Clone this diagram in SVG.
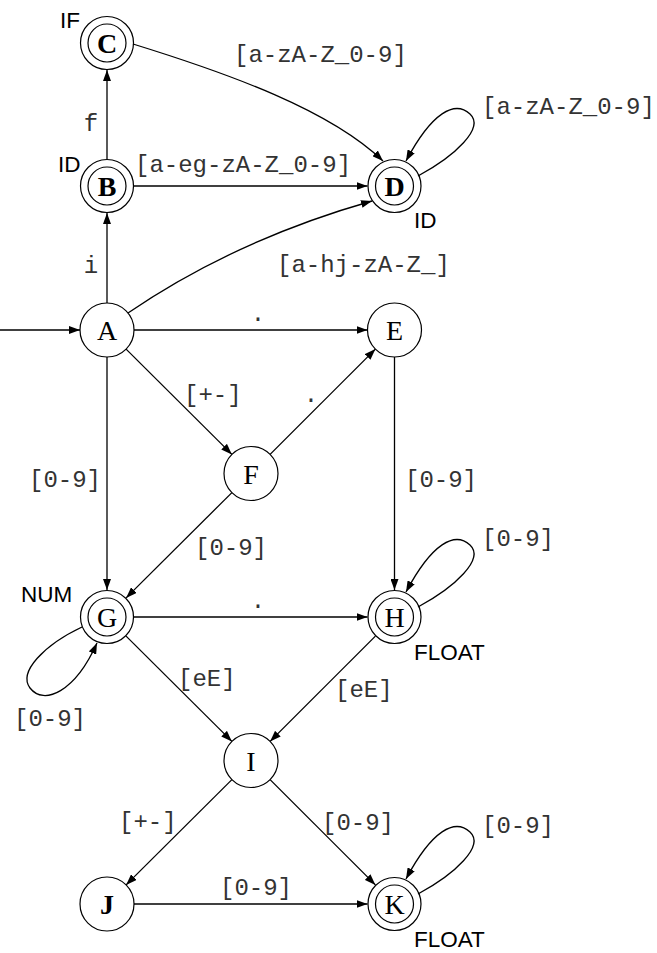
<svg xmlns="http://www.w3.org/2000/svg" width="657" height="953" viewBox="0 0 657 953">
<style>
.bg{fill:#fff}
.n circle{fill:none;stroke:#000;stroke-width:1.2}
.n .nl{font-family:"Liberation Serif",serif;font-size:28px;text-anchor:middle;fill:#000}
.n .b{font-weight:bold}
.n .tag{font-family:"Liberation Sans",Arial,sans-serif;font-size:22.5px;fill:#000;text-anchor:start}
.e path{fill:none;stroke:#000;stroke-width:1.3;marker-end:url(#ah)}
.l{font-family:"Liberation Mono","Courier New",monospace;font-size:24px;fill:#333}
</style>
<defs>
<marker id="ah" markerUnits="userSpaceOnUse" markerWidth="11" markerHeight="8" refX="11" refY="4" orient="auto">
<path d="M0,0 L11,4 L0,8 z" fill="#000"/>
</marker>
</defs>
<rect class="bg" width="657" height="953"/>
<g id="connectors" class="e">
<path d="M0,330 L80,330"/>
<path d="M107,303 L107,213"/>
<path d="M107,159 L107,70"/>
<path d="M134,186 L367.5,186"/>
<path d="M133,44 C230,74 330,110 383,161"/>
<path d="M418,176 C455,156 485,128 470,114 C455,100 432,112 406,161"/>
<path d="M128,313 Q235,240 372,201"/>
<path d="M134,330 L367.5,330"/>
<path d="M126.1,349.1 L231.9,454.4"/>
<path d="M270.1,454.4 L375.4,349.1"/>
<path d="M107,357 L107,590"/>
<path d="M394.5,357 L394.5,590"/>
<path d="M231.9,492.6 L126.1,597.9"/>
<path d="M418,607 C455,587 485,559 470,545 C455,531 432,543 406,592"/>
<path d="M134,617 L367.5,617"/>
<path d="M82,627 C44,645 18,672 30,688 C44,706 75,692 97,643"/>
<path d="M126.1,636.1 L231.9,741.4"/>
<path d="M375.4,636.1 L270.1,741.4"/>
<path d="M231.9,779.6 L126.1,884.9"/>
<path d="M270.1,779.6 L375.4,884.9"/>
<path d="M134,904 L367.5,904"/>
<path d="M418,894 C455,874 485,846 470,832 C455,818 432,830 406,879"/>
</g>
<g id="labels">
<text class="l" x="234" y="62">[a-zA-Z_0-9]</text>
<text class="l" x="482" y="114">[a-zA-Z_0-9]</text>
<text class="l" x="91" y="131" text-anchor="middle">f</text>
<text class="l" x="135" y="172">[a-eg-zA-Z_0-9]</text>
<text class="l" x="91" y="273" text-anchor="middle">i</text>
<text class="l" x="277" y="272">[a-hj-zA-Z_]</text>
<text class="l" x="258" y="321" text-anchor="middle" fill="#000">.</text>
<text class="l" x="184" y="402">[+-]</text>
<text class="l" x="311" y="402" text-anchor="middle" fill="#000">.</text>
<text class="l" x="29" y="487">[0-9]</text>
<text class="l" x="405" y="487">[0-9]</text>
<text class="l" x="195" y="555">[0-9]</text>
<text class="l" x="482" y="546">[0-9]</text>
<text class="l" x="258" y="608" text-anchor="middle" fill="#000">.</text>
<text class="l" x="178" y="686">[eE]</text>
<text class="l" x="335" y="697">[eE]</text>
<text class="l" x="14" y="726">[0-9]</text>
<text class="l" x="119" y="829">[+-]</text>
<text class="l" x="322" y="830">[0-9]</text>
<text class="l" x="482" y="833">[0-9]</text>
<text class="l" x="220" y="895">[0-9]</text>
</g>
<g id="node-C" class="n"><circle cx="107" cy="43" r="26.5"/><circle cx="107" cy="43" r="19"/><text class="nl b" x="107" y="53">C</text><text class="tag" x="60" y="28">IF</text></g>
<g id="node-B" class="n"><circle cx="107" cy="186" r="26.5"/><circle cx="107" cy="186" r="19"/><text class="nl b" x="107" y="196">B</text><text class="tag" x="58" y="172">ID</text></g>
<g id="node-D" class="n"><circle cx="394.5" cy="186" r="26.5"/><circle cx="394.5" cy="186" r="19"/><text class="nl b" x="394.5" y="196">D</text><text class="tag" x="414" y="228">ID</text></g>
<g id="node-A" class="n"><circle cx="107" cy="330" r="27"/><text class="nl" x="107" y="340">A</text></g>
<g id="node-E" class="n"><circle cx="394.5" cy="330" r="27"/><text class="nl" x="394.5" y="340">E</text></g>
<g id="node-F" class="n"><circle cx="251" cy="473.5" r="27"/><text class="nl" x="251" y="483.5">F</text></g>
<g id="node-G" class="n"><circle cx="107" cy="617" r="26.5"/><circle cx="107" cy="617" r="19"/><text class="nl" x="107" y="627">G</text><text class="tag" x="21" y="602">NUM</text></g>
<g id="node-H" class="n"><circle cx="394.5" cy="617" r="26.5"/><circle cx="394.5" cy="617" r="19"/><text class="nl" x="394.5" y="627">H</text><text class="tag" x="414" y="660">FLOAT</text></g>
<g id="node-I" class="n"><circle cx="251" cy="760.5" r="27"/><text class="nl" x="251" y="770.5">I</text></g>
<g id="node-J" class="n"><circle cx="107" cy="904" r="27"/><text class="nl b" x="107" y="914">J</text></g>
<g id="node-K" class="n"><circle cx="394.5" cy="904" r="26.5"/><circle cx="394.5" cy="904" r="19"/><text class="nl" x="394.5" y="914">K</text><text class="tag" x="414" y="947">FLOAT</text></g>
</svg>
